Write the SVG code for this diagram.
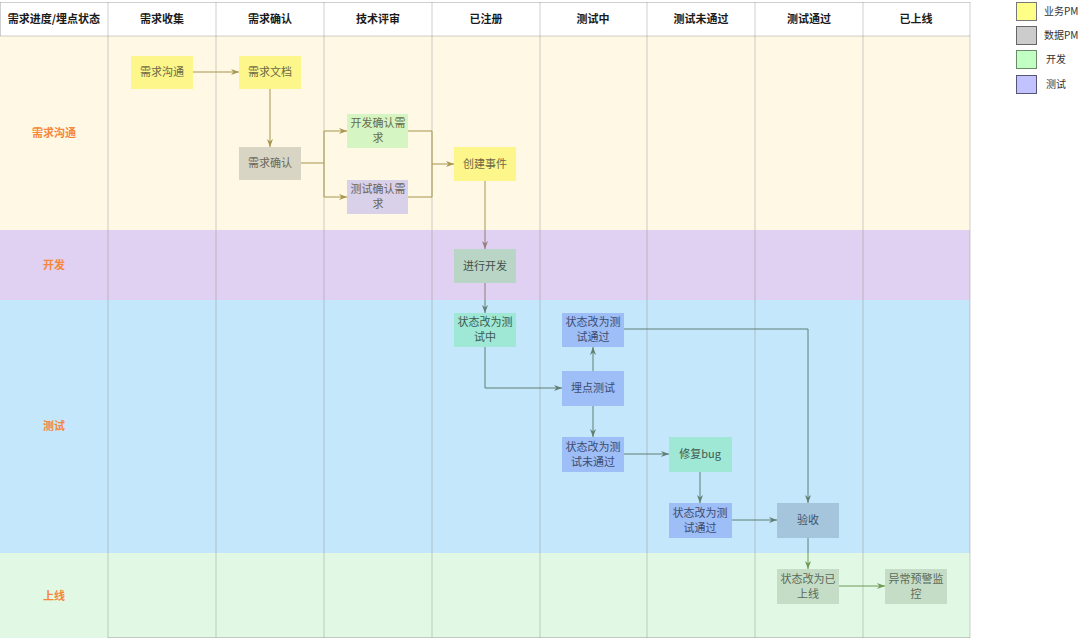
<svg xmlns="http://www.w3.org/2000/svg" width="1080" height="639" viewBox="0 0 1080 639">
<defs>
<style>
text{font-family:"Noto Sans CJK SC","Noto Sans",sans-serif;}
.hd{font-size:11px;font-weight:bold;fill:#1a1a1a;text-anchor:middle;}
.ln{font-size:11px;font-weight:bold;fill:#F5873A;text-anchor:middle;}
.nt{font-size:11px;text-anchor:middle;}
.lg{font-size:10px;fill:#333;}
.grid{stroke:#8a8a8a;stroke-opacity:0.4;stroke-width:1;fill:none;}
.e{fill:none;stroke-width:1;}
.ey{stroke:#A8964E;}
.ep{stroke:#957C7A;}
.eb{stroke:#5F7F72;}
.eg{stroke:#6E9A58;}
</style>
<marker id="ay" viewBox="0 0 8 6" refX="8" refY="3" markerWidth="8" markerHeight="6" markerUnits="userSpaceOnUse" orient="auto"><path d="M0,0 L8,3 L0,6 L2.5,3 z" fill="#A8964E"/></marker>
<marker id="ap" viewBox="0 0 8 6" refX="8" refY="3" markerWidth="8" markerHeight="6" markerUnits="userSpaceOnUse" orient="auto"><path d="M0,0 L8,3 L0,6 L2.5,3 z" fill="#957C7A"/></marker>
<marker id="ab" viewBox="0 0 8 6" refX="8" refY="3" markerWidth="8" markerHeight="6" markerUnits="userSpaceOnUse" orient="auto"><path d="M0,0 L8,3 L0,6 L2.5,3 z" fill="#5F7F72"/></marker>
<marker id="ag" viewBox="0 0 8 6" refX="8" refY="3" markerWidth="8" markerHeight="6" markerUnits="userSpaceOnUse" orient="auto"><path d="M0,0 L8,3 L0,6 L2.5,3 z" fill="#6E9A58"/></marker>
</defs>
<rect x="0" y="0" width="1080" height="639" fill="#ffffff"/>

<g id="lanes">
<rect x="0" y="2" width="970" height="34" fill="#ffffff"/>
<rect x="0" y="36" width="970" height="194" fill="#FEF8E5"/>
<rect x="0" y="230" width="970" height="70" fill="#E0D0F2"/>
<rect x="0" y="300" width="970" height="253" fill="#C5E7FB"/>
<rect x="0" y="553" width="970" height="85" fill="#E1F9E4"/>
<path class="grid" d="M108,2 V638 M216,2 V638 M324,2 V638 M432,2 V638 M540,2 V638 M647,2 V638 M755,2 V638 M863,2 V638 M970,2 V638"/>
<path class="grid" d="M0,2.5 H970 M0,36 H970 M108,637.5 H970 M0.5,2 V36"/>
<text class="hd" x="54" y="23">需求进度/埋点状态</text>
<text class="hd" x="162" y="23">需求收集</text>
<text class="hd" x="270" y="23">需求确认</text>
<text class="hd" x="378" y="23">技术评审</text>
<text class="hd" x="486" y="23">已注册</text>
<text class="hd" x="593" y="23">测试中</text>
<text class="hd" x="701" y="23">测试未通过</text>
<text class="hd" x="809" y="23">测试通过</text>
<text class="hd" x="916" y="23">已上线</text>
<text class="ln" x="54" y="137">需求沟通</text>
<text class="ln" x="54" y="269">开发</text>
<text class="ln" x="54" y="430">测试</text>
<text class="ln" x="54" y="600">上线</text>
</g>

<g id="connectors">
<path class="e ey" d="M193,72 H239" marker-end="url(#ay)"/>
<path class="e ey" d="M270,89 V147" marker-end="url(#ay)"/>
<path class="e ey" d="M301,163 H324 V131 H347" marker-end="url(#ay)"/>
<path class="e ey" d="M324,163 V197 H347" marker-end="url(#ay)"/>
<path class="e ey" d="M408,131 H432 V164 H454" marker-end="url(#ay)"/>
<path class="e ey" d="M408,197 H432 V164"/>
<path class="e ey" d="M485,181 V230"/>
<path class="e ep" d="M485,230 V249" marker-end="url(#ap)"/>
<path class="e ep" d="M485,283 V300"/>
<path class="e eb" d="M485,300 V313" marker-end="url(#ab)"/>
<path class="e eb" d="M485,347 V388 H562" marker-end="url(#ab)"/>
<path class="e eb" d="M593,371 V347" marker-end="url(#ab)"/>
<path class="e eb" d="M593,406 V437" marker-end="url(#ab)"/>
<path class="e eb" d="M624,454 H669" marker-end="url(#ab)"/>
<path class="e eb" d="M700,472 V503" marker-end="url(#ab)"/>
<path class="e eb" d="M732,520 H777" marker-end="url(#ab)"/>
<path class="e eb" d="M624,329 H808 V503" marker-end="url(#ab)"/>
<path class="e eb" d="M808,538 V553"/>
<path class="e eg" d="M808,553 V569" marker-end="url(#ag)"/>
<path class="e eg" d="M839,586 H885" marker-end="url(#ag)"/>
</g>

<g id="n-xqgt"><rect x="131" y="56" width="62" height="33" fill="#FDF68B"/><text class="nt" x="162" y="76" fill="#6E6844">需求沟通</text></g>
<g id="n-xqwd"><rect x="239" y="56" width="62" height="33" fill="#FDF68B"/><text class="nt" x="270" y="76" fill="#6E6844">需求文档</text></g>
<g id="n-xqqr"><rect x="239" y="147" width="62" height="33" fill="#D9D5C5"/><text class="nt" x="270" y="167" fill="#6A6758">需求确认</text></g>
<g id="n-kfqr"><rect x="347" y="114" width="61" height="34" fill="#D5F5C2"/><text class="nt" x="378" y="127" fill="#6A6A48">开发确认需</text><text class="nt" x="378" y="142" fill="#6A6A48">求</text></g>
<g id="n-csqr"><rect x="347" y="180" width="61" height="34" fill="#D9D1E9"/><text class="nt" x="378" y="193" fill="#6A6458">测试确认需</text><text class="nt" x="378" y="208" fill="#6A6458">求</text></g>
<g id="n-cjsj"><rect x="454" y="147" width="62" height="34" fill="#FDF68B"/><text class="nt" x="485" y="168" fill="#6E6844">创建事件</text></g>
<g id="n-jxkf"><rect x="454" y="249" width="62" height="34" fill="#B9D5C6"/><text class="nt" x="485" y="270" fill="#40504A">进行开发</text></g>
<g id="n-cszt"><rect x="454" y="313" width="62" height="34" fill="#9FE8D6"/><text class="nt" x="485" y="326" fill="#3C5A52">状态改为测</text><text class="nt" x="485" y="341" fill="#3C5A52">试中</text></g>
<g id="n-tg1"><rect x="562" y="313" width="62" height="34" fill="#9EBEF7"/><text class="nt" x="593" y="326" fill="#3C4C70">状态改为测</text><text class="nt" x="593" y="341" fill="#3C4C70">试通过</text></g>
<g id="n-mdcs"><rect x="562" y="371" width="62" height="35" fill="#9EBEF7"/><text class="nt" x="593" y="392" fill="#3C4C70">埋点测试</text></g>
<g id="n-wtg"><rect x="562" y="437" width="62" height="35" fill="#9EBEF7"/><text class="nt" x="593" y="451" fill="#3C4C70">状态改为测</text><text class="nt" x="593" y="466" fill="#3C4C70">试未通过</text></g>
<g id="n-xfbug"><rect x="669" y="437" width="63" height="35" fill="#9FE8D6"/><text class="nt" x="700" y="458" fill="#3C5A52">修复bug</text></g>
<g id="n-tg2"><rect x="669" y="503" width="63" height="35" fill="#9EBEF7"/><text class="nt" x="700" y="517" fill="#3C4C70">状态改为测</text><text class="nt" x="700" y="532" fill="#3C4C70">试通过</text></g>
<g id="n-ys"><rect x="777" y="503" width="62" height="35" fill="#A5C5DD"/><text class="nt" x="808" y="524" fill="#3E5468">验收</text></g>
<g id="n-ysx"><rect x="777" y="569" width="62" height="35" fill="#C5DDC6"/><text class="nt" x="808" y="583" fill="#5A6A5A">状态改为已</text><text class="nt" x="808" y="598" fill="#5A6A5A">上线</text></g>
<g id="n-ycjk"><rect x="885" y="569" width="62" height="35" fill="#C5DDC6"/><text class="nt" x="916" y="583" fill="#5A6A5A">异常预警监</text><text class="nt" x="916" y="598" fill="#5A6A5A">控</text></g>

<g id="legend">
<rect x="1016.5" y="2.5" width="20" height="18" fill="#FFFF88" stroke="#777" stroke-width="1"/>
<text class="lg" x="1044" y="15">业务PM</text>
<rect x="1016.5" y="26.5" width="20" height="18" fill="#CCCCCC" stroke="#666" stroke-width="1"/>
<text class="lg" x="1044" y="39">数据PM</text>
<rect x="1016.5" y="50.5" width="20" height="18" fill="#C2FFC2" stroke="#6A8A6A" stroke-width="1"/>
<text class="lg" x="1046" y="63">开发</text>
<rect x="1016.5" y="75.5" width="20" height="18" fill="#C2C2FF" stroke="#555577" stroke-width="1"/>
<text class="lg" x="1046" y="88">测试</text>
</g>
</svg>
